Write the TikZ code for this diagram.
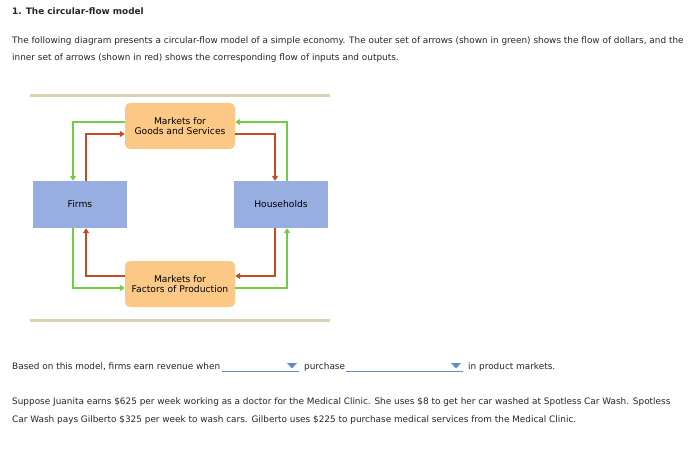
\documentclass[tikz,border=0pt]{standalone}
\usepackage{fontspec}
\setmainfont{DejaVu Sans}
\usetikzlibrary{arrows.meta}
\definecolor{boxorange}{HTML}{FCC886}
\definecolor{boxblue}{HTML}{98ADE0}
\definecolor{flowgreen}{HTML}{72CC44}
\definecolor{flowred}{HTML}{C84A22}
\definecolor{rulebeige}{HTML}{D9D1B2}
\definecolor{menublue}{HTML}{5B8FC8}
\begin{document}
\begin{tikzpicture}[
    x=1pt, y=-1pt,
    txt/.style={anchor=base west, inner sep=0pt, font=\fontsize{8.9}{10}\selectfont, text=black!85},
    market/.style={rectangle, rounded corners=5pt, fill=boxorange, minimum width=110pt, minimum height=46pt, align=center, font=\fontsize{9.2}{10.5}\selectfont, inner sep=0pt},
    sector/.style={rectangle, fill=boxblue, minimum width=94pt, minimum height=47pt, font=\fontsize{9.2}{10.5}\selectfont, inner sep=0pt},
    greenflow/.style={draw=flowgreen, line width=1.5pt, -{Triangle[length=5pt,width=6pt]}},
    redflow/.style={draw=flowred, line width=1.5pt, -{Triangle[length=5pt,width=6pt]}},
    hrule/.style={draw=rulebeige, line width=3pt},
    menu/.style={draw=menublue, line width=0.8pt}
]
    \useasboundingbox (0,0) rectangle (700,449);

    % Question text
    \node[txt, font=\fontsize{8.9}{10}\selectfont\bfseries] (title) at (12,15) {1. The circular-flow model};
    \node[txt] (intro1) at (12,44) {The following diagram presents a circular-flow model of a simple economy. The outer set of arrows (shown in green) shows the flow of dollars, and the};
    \node[txt] (intro2) at (12,61) {inner set of arrows (shown in red) shows the corresponding flow of inputs and outputs.};

    % Rules above and below the diagram
    \coordinate (rt1) at (30,96);
    \coordinate (rt2) at (330,96);
    \coordinate (rb1) at (30,320);
    \coordinate (rb2) at (330,320);
    \draw[hrule] (rt1) -- (rt2);
    \draw[hrule] (rb1) -- (rb2);

    % Boxes
    \node[market] (goods) at (180,126) {Markets for\\Goods and Services};
    \node[sector] (firms) at (80,204.5) {Firms};
    \node[sector] (house) at (281,204.5) {Households};
    \node[market] (factors) at (180,284) {Markets for\\Factors of Production};

    % Flow of dollars (outer, green)
    \draw[greenflow] ([yshift=4pt]goods.west) -| ([xshift=-7pt]firms.north);
    \draw[greenflow] ([xshift=6pt]house.north) |- ([yshift=4pt]goods.east);
    \draw[greenflow] ([xshift=-7pt]firms.south) |- ([yshift=-4pt]factors.west);
    \draw[greenflow] ([yshift=-4pt]factors.east) -| ([xshift=6pt]house.south);

    % Flow of inputs and outputs (inner, red)
    \draw[redflow] ([xshift=6pt]firms.north) |- ([yshift=-8pt]goods.west);
    \draw[redflow] ([yshift=-8pt]goods.east) -| ([xshift=-6pt]house.north);
    \draw[redflow] ([yshift=8pt]factors.west) -| ([xshift=6pt]firms.south);
    \draw[redflow] ([xshift=-6pt]house.south) |- ([yshift=8pt]factors.east);

    % Fill-in sentence with drop-down menus
    \node[txt] (based) at (12,369) {Based on this model, firms earn revenue when};
    \coordinate (m1a) at (222,371);
    \coordinate (m1b) at (299,371);
    \draw[menu] (m1a) -- (m1b);
    \fill[menublue] (287,363) -- (297,363) -- (292,368.5) -- cycle;
    \node[txt] (purchase) at (304,369) {purchase};
    \coordinate (m2a) at (346,371);
    \coordinate (m2b) at (463,371);
    \draw[menu] (m2a) -- (m2b);
    \fill[menublue] (451,363) -- (461,363) -- (456,368.5) -- cycle;
    \node[txt] (markets) at (468,369) {in product markets.};

    % Example
    \node[txt] (ex1) at (12,404) {Suppose Juanita earns \$625 per week working as a doctor for the Medical Clinic. She uses \$8 to get her car washed at Spotless Car Wash. Spotless};
    \node[txt] (ex2) at (12,422) {Car Wash pays Gilberto \$325 per week to wash cars. Gilberto uses \$225 to purchase medical services from the Medical Clinic.};
\end{tikzpicture}
\end{document}
